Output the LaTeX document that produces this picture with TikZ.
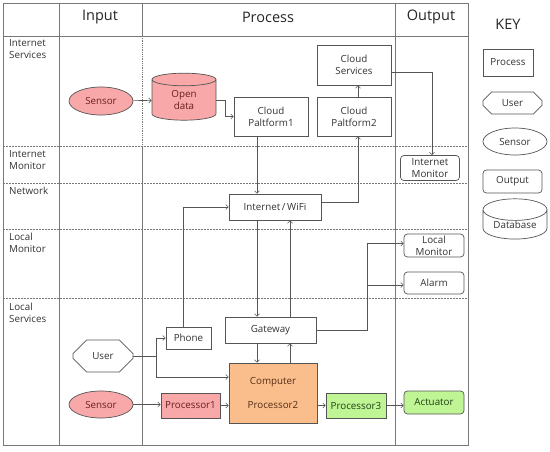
\documentclass[tikz,border=0pt]{standalone}
\usepackage{fontspec}
\setmainfont{Open Sans}
\usetikzlibrary{shapes.geometric, shapes.misc, arrows.meta}

\definecolor{linegray}{RGB}{85,85,85}
\definecolor{gridgray}{RGB}{120,120,120}
\definecolor{sensorfill}{RGB}{248,168,168}
\definecolor{sensortext}{RGB}{105,30,30}
\definecolor{compfill}{RGB}{250,190,140}
\definecolor{comptext}{RGB}{85,45,20}
\definecolor{actfill}{RGB}{192,245,150}
\definecolor{acttext}{RGB}{30,65,20}

\newcommand{\boxfont}{\fontsize{9.8}{11.8}\selectfont}
\newcommand{\headfont}{\fontsize{14.5}{16}\selectfont}

\tikzset{
  procbox/.style={draw=linegray, line width=0.7pt, fill=white, rectangle, inner sep=0pt, align=center, font=\boxfont, text=black!80},
  outbox/.style={procbox, rounded corners=3.5pt},
  sensorbox/.style={procbox, ellipse},
  userbox/.style={procbox, chamfered rectangle, chamfered rectangle xsep=#1, chamfered rectangle ysep=#1},
  userbox/.default=10pt,
  dbbox/.style={procbox, cylinder, shape border rotate=90, aspect=0.5},
  redfill/.style={fill=sensorfill, text=sensortext},
  orangefill/.style={fill=compfill, text=comptext},
  greenfill/.style={fill=actfill, text=acttext},
  arr/.style={draw=linegray, line width=0.6pt, -{Straight Barb[length=2.5pt,width=5pt]}},
  link/.style={draw=linegray, line width=0.6pt},
  grid/.style={draw=gridgray, line width=0.8pt},
  rowline/.style={draw=gridgray, line width=0.7pt, dash pattern=on 2pt off 1pt},
  rowlabel/.style={anchor=north west, inner sep=0pt, align=left, font=\boxfont, text=black!80}
}

\begin{document}
\begin{tikzpicture}[x=1pt,y=-1pt]
\useasboundingbox (0,0) rectangle (550,451);
\fill[white] (0,0) rectangle (550,451);

\draw[grid, line width=1pt] (3,3) rectangle (468,445);
\draw[grid] (3,36) -- (468,36);
\draw[grid] (59,3) -- (59,445);
\draw[grid] (142,3) -- (142,36);
\draw[grid, densely dotted] (142,36) -- (142,146);
\draw[grid] (142,146) -- (142,445);
\draw[grid] (395,3) -- (395,445);
\foreach \yrow in {146,183,229,298}
  \draw[rowline] (3,\yrow) -- (468,\yrow);

\node[font=\headfont, text=black!85] (hinput) at (100,17) {Input};
\node[font=\headfont, text=black!85] (hprocess) at (268,17) {Process};
\node[font=\headfont, text=black!85] (houtput) at (431,17) {Output};
\node[font=\headfont, text=black!85] (hkey) at (508,24) {KEY};

\node[rowlabel] (lisrv) at (9,39) {Internet\\Services};
\node[rowlabel] (limon) at (9,150) {Internet\\Monitor};
\node[rowlabel] (lnet) at (9,187) {Network};
\node[rowlabel] (llmon) at (9,233) {Local\\Monitor};
\node[rowlabel] (llsrv) at (9,303) {Local\\Services};

\node[sensorbox, redfill, minimum width=64pt, minimum height=28pt] (sensorA) at (101,101) {Sensor};
\node[dbbox, redfill, minimum width=64pt, minimum height=47pt] (opendata) at (184,100) {Open\\data};
\node[procbox, minimum width=74pt, minimum height=39pt] (cloudA) at (271,116.5) {Cloud\\Paltform1};
\node[procbox, minimum width=74pt, minimum height=40pt] (cloudsrv) at (354,65) {Cloud\\Services};
\node[procbox, minimum width=74pt, minimum height=39pt] (cloudB) at (354,116.5) {Cloud\\Paltform2};
\node[outbox, minimum width=59pt, minimum height=25pt] (inetmon) at (430,168) {Internet\\Monitor};
\node[procbox, minimum width=92pt, minimum height=26pt] (inet) at (275,207) {Internet\,/\,WiFi};
\node[outbox, minimum width=60pt, minimum height=23pt] (localmon) at (434,245.5) {Local\\Monitor};
\node[outbox, minimum width=60pt, minimum height=22pt] (alarm) at (434,283) {Alarm};
\node[procbox, minimum width=91pt, minimum height=26pt] (gateway) at (270.5,330) {Gateway};
\node[procbox, minimum width=45pt, minimum height=22pt] (phone) at (188.5,338) {Phone};
\node[userbox, minimum width=60pt, minimum height=32pt] (user) at (103,356) {User};
\node[sensorbox, redfill, minimum width=64pt, minimum height=27pt] (sensorB) at (101,404.5) {Sensor};
\node[procbox, redfill, minimum width=59pt, minimum height=25pt] (procA) at (190.5,405.5) {Processor1};
\node[procbox, orangefill, minimum width=88pt, minimum height=60pt] (comp) at (273,393) {Computer\\[12pt]Processor2};
\node[procbox, greenfill, minimum width=60pt, minimum height=25pt] (procC) at (356,405.5) {Processor3};
\node[outbox, greenfill, minimum width=60pt, minimum height=23pt] (actuator) at (434,402.5) {Actuator};

\node[procbox, minimum width=50pt, minimum height=27pt] (kproc) at (508,62.5) {Process};
\node[userbox=5pt, minimum width=59pt, minimum height=22pt] (kuser) at (512.5,103) {User};
\node[sensorbox, minimum width=64pt, minimum height=27pt] (ksensor) at (515,141.5) {Sensor};
\node[outbox, minimum width=59pt, minimum height=23pt] (koutput) at (512.5,181.5) {Output};
\node[dbbox, minimum width=64pt, minimum height=35pt] (kdb) at (515,224.5) {Database};

\coordinate (colL) at (257,0);
\coordinate (colR) at (290,0);
\coordinate (usplit) at (156,0);
\coordinate (gsplit) at (367,0);

\draw[arr] (sensorA) -- (opendata);
\draw[arr] (opendata.east) -- ++(9,0) |- (cloudA.west);
\draw[arr] (cloudA.south -| colL) -- (inet.north -| colL);
\draw[arr] ([yshift=5pt]inet.east) -| ([xshift=4pt]cloudB.south);
\draw[arr] ([xshift=4pt]cloudB.north) -- ([xshift=4pt]cloudsrv.south);
\draw[arr] ([yshift=-7pt]cloudsrv.east) -| ([xshift=2pt]inetmon.north);
\draw[arr] (inet.south -| colL) -- (gateway.north -| colL);
\draw[arr] (gateway.north -| colR) -- (inet.south -| colR);
\draw[arr] ([xshift=-5pt]phone.north) |- (inet.west);
\draw[arr] (user.east) -- (user.east -| usplit) |- (phone.west);
\draw[arr] (user.east -| usplit) |- ([yshift=16pt]comp.west);
\draw[arr] (gateway.south -| colL) -- (comp.north -| colL);
\draw[arr] (comp.north -| colR) -- (gateway.south -| colR);
\draw[arr] (gateway.east) -- (gateway.east -| gsplit) |- ([yshift=2pt]localmon.west);
\draw[arr] ([yshift=-2pt]alarm.west -| gsplit) -- ([yshift=-2pt]alarm.west);
\draw[arr] (sensorB.east) -- (sensorB.east -| procA.west);
\draw[arr] (procA.east) -- (procA.east -| comp.west);
\draw[arr] (comp.east |- procC.west) -- (procC.west);
\draw[arr] (procC.east) -- (procC.east -| actuator.west);
\end{tikzpicture}
\end{document}
